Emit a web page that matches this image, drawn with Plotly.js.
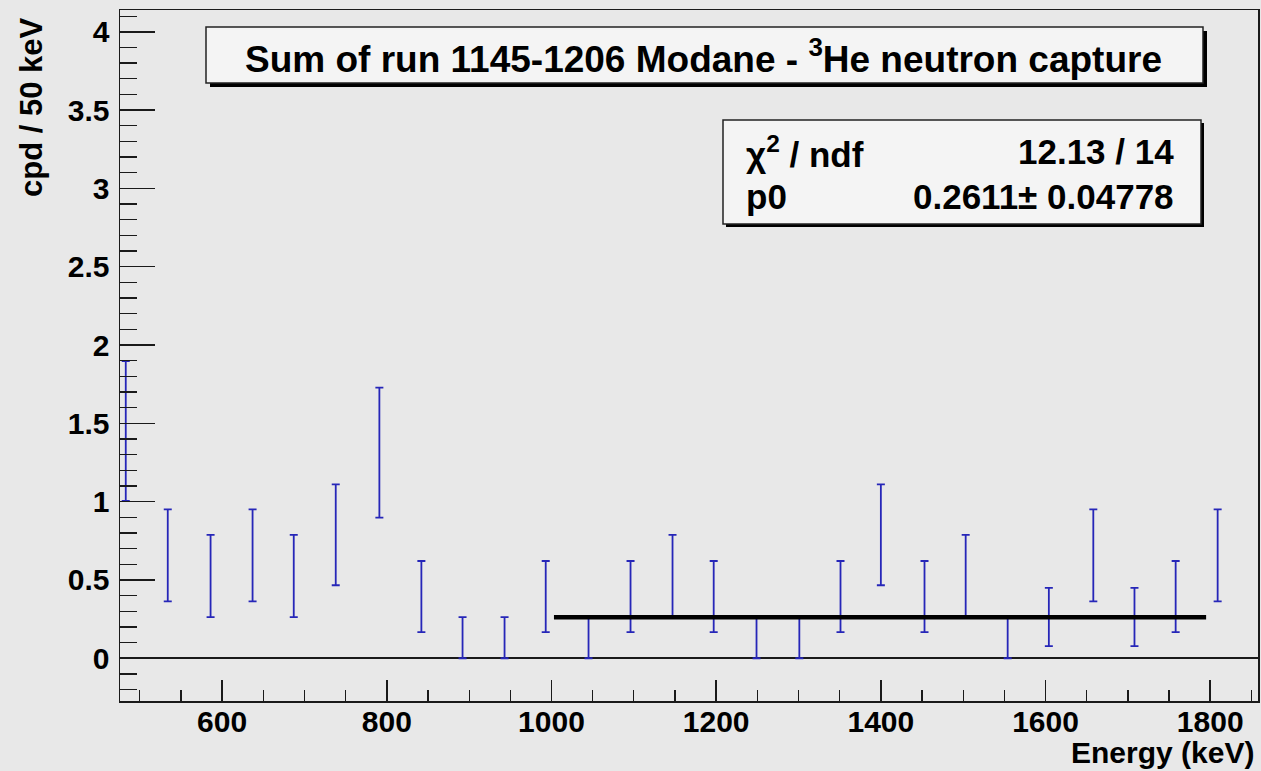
<!DOCTYPE html>
<html>
<head>
<meta charset="utf-8">
<script src="https://cdn.plot.ly/plotly-3.0.1.min.js"></script>
<style>
html,body{margin:0;padding:0;background:#e8e8e8;}
#plot{width:1261px;height:771px;}
</style>
</head>
<body>
<div id="plot"></div>
<script>
// ---- data ----
var energy = [483, 534, 586, 637, 687, 738, 791, 842, 892, 943, 993, 1045, 1096, 1147, 1197, 1249, 1301, 1351, 1400, 1453, 1503, 1554, 1604, 1658, 1708, 1758, 1809];
var rate   = [1.451, 0.657, 0.525, 0.657, 0.525, 0.788, 1.313, 0.394, 0.131, 0.131, 0.394, 0.131, 0.394, 0.525, 0.394, 0.131, 0.131, 0.394, 0.788, 0.394, 0.525, 0.131, 0.263, 0.657, 0.263, 0.394, 0.657];
var rateErr= [0.447, 0.294, 0.263, 0.294, 0.263, 0.322, 0.415, 0.227, 0.131, 0.131, 0.227, 0.131, 0.227, 0.263, 0.227, 0.131, 0.131, 0.227, 0.322, 0.227, 0.263, 0.131, 0.186, 0.294, 0.186, 0.227, 0.294];
var fitX = [1003, 1795];
var fitP0 = 0.2611;
var fitY = [fitP0, fitP0];
var titleText = "Sum of run 1145-1206 Modane - <sup>3</sup>He neutron capture";
var statLabels = ["\u03c7<sup>2</sup> / ndf", "p0"];
var statValues = ["12.13 / 14", "0.2611\u00b1 0.04778"];
var xTitle = "Energy (keV)";
var yTitle = "cpd / 50 keV";

// ---- layout helpers (pixel -> paper) ----
var W = 1261, H = 771;
var L = 120, R = 1258, T = 10, B = 701;
function px(x){ return (x - L) / (R - L); }
function py(y){ return (B - y) / (B - T); }

var FONT = "Liberation Sans, Arial, Helvetica, sans-serif";
var gray = "#e8e8e8";

var traces = [
  {
    x: energy, y: rate, type: "scatter", mode: "markers",
    marker: {size: 1, color: "rgba(0,0,0,0)"},
    error_y: {type: "data", array: rateErr, visible: true, color: "#2626b8", thickness: 1.8, width: 4},
    hoverinfo: "x+y", showlegend: false
  },
  {
    x: fitX, y: fitY, type: "scatter", mode: "lines",
    line: {color: "#000000", width: 4.5}, showlegend: false
  }
];

function box(x0, y0, x1, y1, sh){
  return [
    {type:"rect", xref:"paper", yref:"paper", x0:px(x0+sh), x1:px(x1+sh), y0:py(y1+sh), y1:py(y0+sh),
     fillcolor:"#000000", line:{width:0}, layer:"above"},
    {type:"rect", xref:"paper", yref:"paper", x0:px(x0), x1:px(x1), y0:py(y1), y1:py(y0),
     fillcolor:"#f4f4f4", line:{color:"#222222", width:1.5}, layer:"above"}
  ];
}

var shapes = [].concat(box(206, 27, 1203, 83, 4), box(723, 120, 1201, 224, 3));

var annotations = [
  {text: titleText, xref:"paper", yref:"paper", x:px(703), y:py(57), xanchor:"center", yanchor:"middle",
   showarrow:false, font:{family:FONT, size:37, color:"#000", weight:"bold"}},
  {text: statLabels[0], xref:"paper", yref:"paper", x:px(744), y:py(152), xanchor:"left", yanchor:"middle",
   showarrow:false, font:{family:FONT, size:35, color:"#000", weight:"bold"}},
  {text: statLabels[1], xref:"paper", yref:"paper", x:px(744), y:py(197), xanchor:"left", yanchor:"middle",
   showarrow:false, font:{family:FONT, size:35, color:"#000", weight:"bold"}},
  {text: statValues[0], xref:"paper", yref:"paper", x:px(1176), y:py(152), xanchor:"right", yanchor:"middle",
   showarrow:false, font:{family:FONT, size:35, color:"#000", weight:"bold"}},
  {text: statValues[1], xref:"paper", yref:"paper", x:px(1176), y:py(197), xanchor:"right", yanchor:"middle",
   showarrow:false, font:{family:FONT, size:35, color:"#000", weight:"bold"}},
  {text: xTitle, xref:"paper", yref:"paper", x:px(1256), y:py(752), xanchor:"right", yanchor:"middle",
   showarrow:false, font:{family:FONT, size:30, color:"#000", weight:"bold"}},
  {text: yTitle, xref:"paper", yref:"paper", x:px(32), y:py(107), xanchor:"center", yanchor:"middle",
   textangle:-90, showarrow:false, font:{family:FONT, size:31, color:"#000", weight:"bold"}}
];

var layout = {
  width: W, height: H,
  margin: {l: L, r: W - R, t: T, b: H - B, pad: 0},
  paper_bgcolor: gray, plot_bgcolor: gray,
  showlegend: false,
  xaxis: {
    range: [476, 1858], showgrid: false, zeroline: false,
    showline: true, mirror: true, linecolor: "#1a1a1a", linewidth: 1.5,
    ticks: "inside", tickcolor: "#1a1a1a", ticklen: 21, tickwidth: 1.5,
    tick0: 0, dtick: 200,
    minor: {ticks: "inside", dtick: 50, tick0: 0, ticklen: 11, tickcolor: "#1a1a1a", tickwidth: 1.2},
    tickfont: {family: FONT, size: 30, color: "#000", weight: "bold"},
    ticklabelstandoff: -7
  },
  yaxis: {
    range: [-0.273, 4.139], showgrid: false,
    zeroline: true, zerolinecolor: "#1a1a1a", zerolinewidth: 1.5,
    showline: true, mirror: true, linecolor: "#1a1a1a", linewidth: 1.5,
    ticks: "inside", tickcolor: "#1a1a1a", ticklen: 35, tickwidth: 1.5,
    tick0: 0, dtick: 0.5,
    minor: {ticks: "inside", dtick: 0.1, tick0: 0, ticklen: 17, tickcolor: "#1a1a1a", tickwidth: 1.2},
    tickfont: {family: FONT, size: 30, color: "#000", weight: "bold"},
    ticklabelstandoff: 3
  },
  shapes: shapes,
  annotations: annotations
};

Plotly.newPlot("plot", traces, layout, {displayModeBar: false, staticPlot: true});
</script>
</body>
</html>
